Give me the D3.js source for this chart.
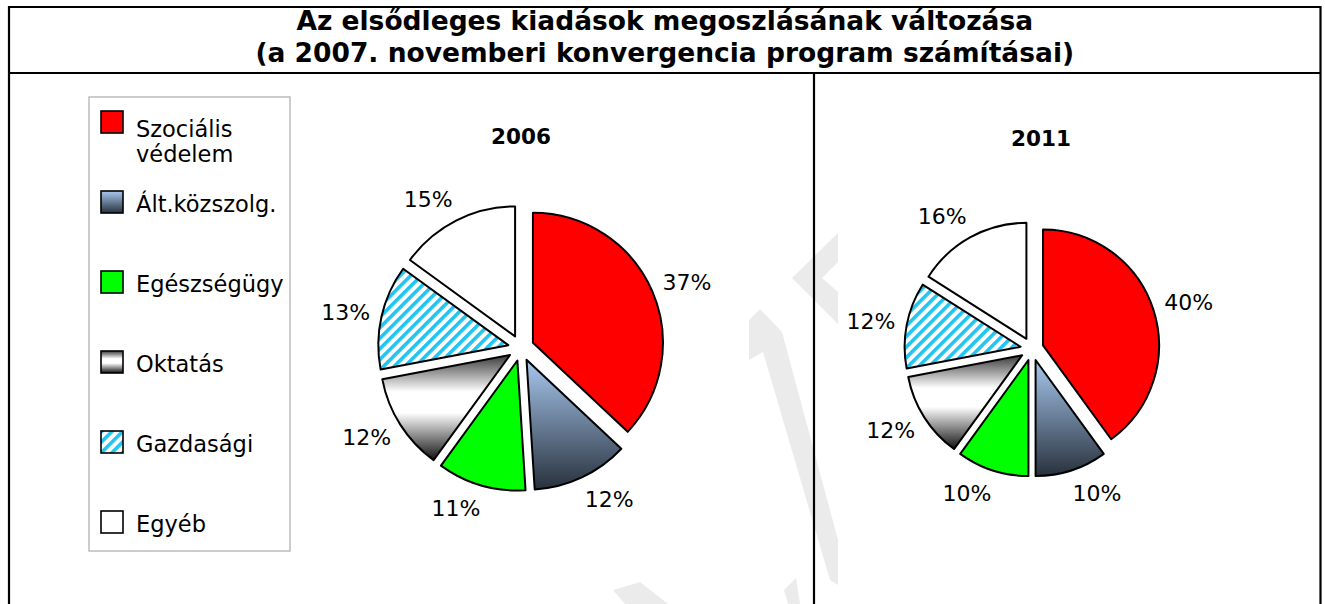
<!DOCTYPE html>
<html>
<head>
<meta charset="utf-8">
<script src="https://cdn.jsdelivr.net/npm/d3@7"></script>
<style>
  html, body { margin: 0; padding: 0; background: #fff; }
  svg { display: block; }
</style>
</head>
<body>
<svg id="chart" width="1325" height="604"></svg>
<script>
// ---- data ----
const categories = ["Szociális védelem", "Ált.közszolg.", "Egészségügy", "Oktatás", "Gazdasági", "Egyéb"];
const legendLines = [["Szociális", "védelem"], ["Ált.közszolg."], ["Egészségügy"], ["Oktatás"], ["Gazdasági"], ["Egyéb"]];
const years = ["2006", "2011"];
const values2006 = [37, 12, 11, 12, 13, 15];
const values2011 = [40, 10, 10, 12, 12, 16];
const titleLines = ["Az elsődleges kiadások megoszlásának változása", "(a 2007. novemberi konvergencia program számításai)"];

// ---- layout ----
const W = 1325, H = 604;
const FONT = "'DejaVu Sans', Verdana, sans-serif";
const frame = { left: 9, top: 7, right: 1320.5, titleBottom: 73, divider: 814 };
const pies = [
  { year: years[0], values: values2006, cx: 521, cy: 348, r: 130, titleX: 521, titleY: 144 },
  { year: years[1], values: values2011, cx: 1032, cy: 349, r: 116, titleX: 1041, titleY: 146 }
];

const svg = d3.select("#chart");
const defs = svg.append("defs");

// gradients / patterns
const gBlue = defs.append("linearGradient").attr("id", "gBlue").attr("x1", 0).attr("y1", 0).attr("x2", 0).attr("y2", 1);
gBlue.append("stop").attr("offset", "0%").attr("stop-color", "#a8c8ef");
gBlue.append("stop").attr("offset", "100%").attr("stop-color", "#28313d");

const gGrey = defs.append("linearGradient").attr("id", "gGrey").attr("x1", 0).attr("y1", 0).attr("x2", 0).attr("y2", 1);
gGrey.append("stop").attr("offset", "0%").attr("stop-color", "#3a3a3a");
gGrey.append("stop").attr("offset", "35%").attr("stop-color", "#ffffff");
gGrey.append("stop").attr("offset", "55%").attr("stop-color", "#ffffff");
gGrey.append("stop").attr("offset", "100%").attr("stop-color", "#111111");

const pat = defs.append("pattern").attr("id", "pStripe").attr("patternUnits", "userSpaceOnUse")
  .attr("width", 7.5).attr("height", 7.5).attr("patternTransform", "rotate(45)");
pat.append("rect").attr("width", 7.5).attr("height", 7.5).attr("fill", "#ffffff");
pat.append("rect").attr("width", 3.6).attr("height", 7.5).attr("fill", "#22c4f2");

const fills = ["#ff0000", "url(#gBlue)", "#00ff00", "url(#gGrey)", "url(#pStripe)", "#ffffff"];

// watermark (faint decoration)
const wm = svg.append("g").attr("fill", "#ebebeb");
[
  [[749,320],[760,309],[782,332],[838,540],[838,585],[830,580],[763,352],[749,360]],
  [[792,278],[838,233],[838,262],[822,278],[838,292],[838,324]],
  [[613,590],[640,582],[668,604],[625,604]],
  [[784,590],[796,578],[800,604],[788,604]]
].forEach(p => wm.append("polygon").attr("points", p.map(q => q.join(",")).join(" ")));

// frame
const fr = svg.append("g").attr("stroke", "#000").attr("stroke-width", 2.2).attr("fill", "none");
fr.append("path").attr("d", `M${frame.left},${H + 5}V${frame.top}H${frame.right}V${H + 5}`);
fr.append("line").attr("x1", frame.left).attr("x2", frame.right).attr("y1", frame.titleBottom).attr("y2", frame.titleBottom);
fr.append("line").attr("x1", frame.divider).attr("x2", frame.divider).attr("y1", frame.titleBottom).attr("y2", H + 5);

// title
svg.append("g").selectAll("text").data(titleLines).join("text")
  .attr("x", (frame.left + frame.right) / 2)
  .attr("y", (d, i) => 30 + i * 32)
  .attr("text-anchor", "middle")
  .attr("font-family", FONT).attr("font-weight", "bold").attr("font-size", 26.5)
  .text(d => d);

// legend
const lg = svg.append("g");
lg.append("rect").attr("x", 89).attr("y", 97).attr("width", 201).attr("height", 454)
  .attr("fill", "#fff").attr("stroke", "#bcbcbc").attr("stroke-width", 1.5);
const legendY = d3.scalePoint().domain(categories).range([111, 511]);
categories.forEach((c, i) => {
  const y = legendY(c);
  lg.append("rect").attr("x", 101).attr("y", y).attr("width", 22).attr("height", 22)
    .attr("fill", fills[i]).attr("stroke", "#000").attr("stroke-width", 1.6);
  const t = lg.append("text").attr("font-family", FONT).attr("font-size", 22.5).attr("fill", "#000");
  const lines = legendLines[i];
  const baseY = lines.length > 1 ? y + 26 : y + 21;
  lines.forEach((l, k) => t.append("tspan").attr("x", 136).attr("y", baseY + k * 25).text(l));
});

// pies
const pieGen = d3.pie().sort(null).value(d => d).startAngle(0).endAngle(2 * Math.PI);
pies.forEach(p => {
  const g = svg.append("g").attr("transform", `translate(${p.cx},${p.cy})`);
  const arc = d3.arc().innerRadius(0).outerRadius(p.r);
  const explode = p.r * 0.1;
  const arcs = pieGen(p.values);
  g.selectAll("path").data(arcs).join("path")
    .attr("d", arc)
    .attr("transform", d => {
      const m = (d.startAngle + d.endAngle) / 2;
      return `translate(${Math.sin(m) * explode},${-Math.cos(m) * explode})`;
    })
    .attr("fill", (d, i) => fills[i])
    .attr("stroke", "#000").attr("stroke-width", 2).attr("stroke-linejoin", "round");

  const R = p.r + explode + 15;
  g.selectAll("text.lbl").data(arcs).join("text").attr("class", "lbl")
    .attr("x", d => {
      const m = (d.startAngle + d.endAngle) / 2;
      const s = Math.sin(m);
      return s * R + Math.sign(s) * 21;
    })
    .attr("y", d => {
      const m = (d.startAngle + d.endAngle) / 2;
      const c = -Math.cos(m);
      return c * R + c * 9;
    })
    .attr("dy", "0.36em")
    .attr("text-anchor", "middle")
    .attr("font-family", FONT).attr("font-size", 22)
    .text(d => d.data + "%");

  svg.append("text").attr("x", p.titleX).attr("y", p.titleY)
    .attr("text-anchor", "middle").attr("font-family", FONT).attr("font-weight", "bold").attr("font-size", 21.5)
    .text(p.year);
});
</script>
</body>
</html>
